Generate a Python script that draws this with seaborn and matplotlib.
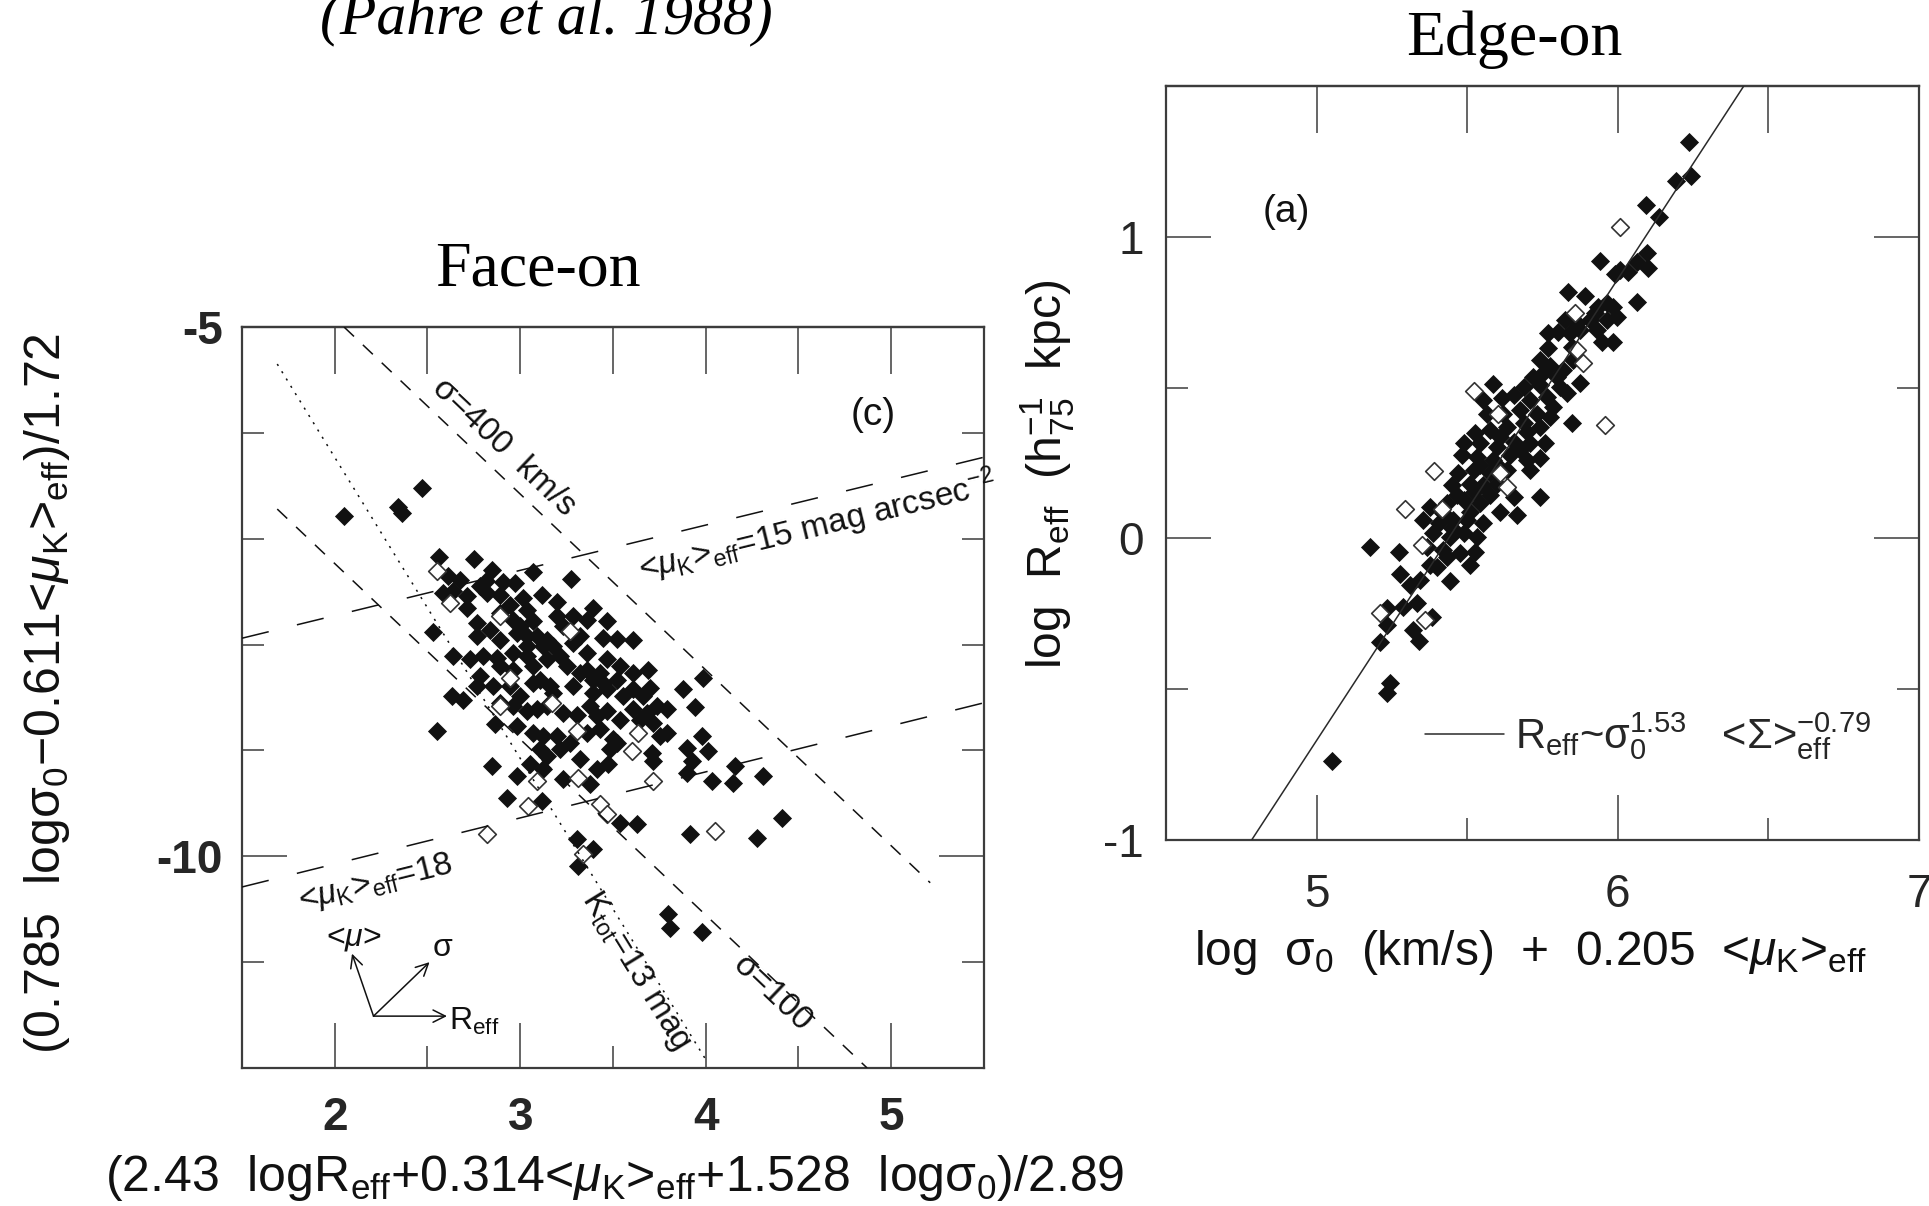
import numpy as np
import pandas as pd
import matplotlib
matplotlib.use("Agg")
import matplotlib.pyplot as plt
from matplotlib.ticker import NullLocator
import seaborn as sns

# ---------------- Face-on panel (c): filled galaxies ----------------
face_filled_x = [2.05, 2.34, 2.36, 2.47,
    2.564, 2.751, 3.071, 3.272, 2.613, 2.675, 2.816, 2.846, 2.909, 2.972,
    2.582, 2.640, 2.711, 2.783, 2.819, 2.891, 3.017, 3.116, 3.197, 2.711,
    2.945, 3.035, 3.394, 3.197, 3.286, 3.466, 2.765, 2.891, 2.963, 3.071,
    2.532, 2.837, 2.765, 2.891, 2.981, 3.089, 3.233, 3.322, 3.448, 3.520,
    3.610, 2.640, 2.729, 2.801, 2.873, 2.963, 3.035, 3.179, 3.286, 3.358,
    3.466, 3.538, 2.783, 2.891, 2.963, 3.071, 3.143, 3.215, 3.358, 3.430,
    3.520, 3.610, 3.691, 3.987, 2.631, 2.693, 2.765, 2.855, 2.945, 3.071,
    3.161, 3.286, 3.394, 3.466, 3.610, 3.700, 3.879, 2.550,
    2.999, 3.143, 3.035, 3.250, 3.322, 3.394, 3.107, 3.179, 2.999, 3.448,
    3.556, 3.664, 3.358, 3.125, 3.035,
    2.891, 2.963, 3.035, 3.088, 3.142, 3.232, 3.304, 3.376, 3.412, 3.466,
    3.538, 3.610, 3.681, 3.735, 3.789, 3.942, 2.864, 2.981, 3.071, 3.124,
    3.196, 3.268, 3.358, 3.430, 3.502, 3.646, 3.717, 3.753, 3.789, 3.897,
    3.978, 4.014, 3.106, 3.142, 3.214, 3.322, 3.484, 3.520, 3.708, 3.717,
    3.924, 2.846, 3.053, 3.124, 3.232, 3.376, 3.412, 3.475, 3.897, 4.032,
    4.149, 4.158, 4.310, 2.981, 2.927, 3.115, 3.304, 3.394, 3.313, 3.538,
    3.628, 3.915, 4.274, 4.409, 3.798, 3.807, 3.978]
face_filled_y = [-6.79, -6.70, -6.76, -6.52,
    -7.173, -7.192, -7.318, -7.380, -7.355, -7.387, -7.402, -7.292, -7.412, -7.418,
    -7.513, -7.497, -7.544, -7.450, -7.513, -7.528, -7.560, -7.528, -7.601, -7.654,
    -7.623, -7.670, -7.654, -7.733, -7.733, -7.780, -7.796, -7.701, -7.764, -7.780,
    -7.884, -7.858, -7.921, -7.953, -7.890, -7.921, -7.827, -7.921, -7.937, -7.947,
    -7.953, -8.104, -8.141, -8.110, -8.126, -8.079, -8.016, -8.016, -7.984, -8.079,
    -8.141, -8.204, -8.299, -8.204, -8.236, -8.204, -8.141, -8.110, -8.236, -8.267,
    -8.330, -8.267, -8.236, -8.314, -8.487, -8.519, -8.393, -8.393, -8.393, -8.362,
    -8.393, -8.393, -8.456, -8.424, -8.424, -8.409, -8.424, -8.818,
    -7.827, -7.953, -8.110, -8.204, -8.267, -8.330, -8.330, -8.456, -8.487, -8.362,
    -8.487, -8.487, -7.764, -8.016, -7.921,
    -8.550, -8.582, -8.629, -8.613, -8.582, -8.645, -8.661, -8.582, -8.676, -8.629,
    -8.708, -8.613, -8.645, -8.582, -8.613, -8.588, -8.755, -8.771, -8.833, -8.865,
    -8.865, -8.928, -8.833, -8.802, -8.896, -8.708, -8.739, -8.865, -8.833, -8.975,
    -8.865, -9.006, -8.991, -9.054, -8.991, -9.085, -8.991, -8.928, -9.022, -9.101,
    -9.101, -9.148, -9.132, -9.179, -9.274, -9.321, -9.179, -9.132, -9.211, -9.289,
    -9.305, -9.148, -9.242, -9.242, -9.447, -9.478, -9.840, -9.928, -10.091, -9.683,
    -9.698, -9.793, -9.824, -9.635, -10.547, -10.673, -10.720]

# ---------------- Face-on panel (c): open galaxies ----------------
face_open_x = [2.550, 2.622, 2.891, 3.268, 2.945, 3.170, 2.891, 3.304, 3.637, 3.601,
               3.313, 3.088, 3.044, 3.430, 3.466, 3.717, 4.050, 3.340, 2.819]
face_open_y = [-7.308, -7.607, -7.733, -7.874, -8.314, -8.550, -8.576, -8.818, -8.833, -9.006,
               -9.258, -9.289, -9.525, -9.510, -9.604, -9.289, -9.761, -9.981, -9.793]

# ---------------- Edge-on panel (a): filled galaxies ----------------
edge_filled_x = [6.237, 6.193, 6.242, 6.094, 6.138, 5.941, 5.991, 6.007, 6.035, 6.063,
    6.096, 6.101, 5.836, 5.891, 6.063, 5.935, 5.963, 5.985, 5.924, 5.825,
    5.863, 5.908, 5.963, 5.996, 5.769, 5.802, 5.841, 5.874, 5.930, 5.946,
    5.985, 5.769, 5.847, 5.742, 5.775, 5.852, 5.720, 5.753, 5.797, 5.819,
    5.587, 5.687, 5.742, 5.809, 5.875, 5.654, 5.709, 5.764, 5.831, 5.847,
    5.565, 5.620, 5.676, 5.731, 5.786, 5.526, 5.576, 5.632, 5.687, 5.742,
    5.775, 5.488, 5.543, 5.598, 5.654, 5.709, 5.759, 5.482, 5.532, 5.587,
    5.643, 5.698, 5.742, 5.471, 5.521, 5.576, 5.632, 5.449, 5.510, 5.554,
    5.598, 5.654, 5.742, 5.377, 5.432, 5.488, 5.543, 5.609, 5.665, 5.354,
    5.405, 5.454, 5.499, 5.554, 5.388, 5.443, 5.488, 5.532, 5.272, 5.366,
    5.421, 5.477, 5.526,
    5.554, 5.614, 5.698, 5.609, 5.543, 5.598, 5.676, 5.465, 5.521, 5.576,
    5.421, 5.510, 5.449, 5.432, 5.709, 5.177,
    5.277, 5.310, 5.343, 5.376, 5.399, 5.443, 5.509, 5.233, 5.288, 5.332,
    5.382, 5.233, 5.321, 5.341, 5.211, 5.244, 5.233, 5.050]
edge_filled_y = [1.315, 1.186, 1.202, 1.106, 1.067, 0.921, 0.877, 0.890, 0.884, 0.918,
    0.947, 0.896, 0.818, 0.804, 0.785, 0.768, 0.782, 0.768, 0.746, 0.724,
    0.713, 0.724, 0.724, 0.735, 0.680, 0.686, 0.680, 0.691, 0.691, 0.652,
    0.652, 0.630, 0.636, 0.592, 0.570, 0.592, 0.536, 0.547, 0.536, 0.558,
    0.512, 0.503, 0.508, 0.503, 0.514, 0.475, 0.459, 0.470, 0.481, 0.384,
    0.414, 0.414, 0.426, 0.414, 0.437, 0.348, 0.359, 0.370, 0.381, 0.370,
    0.403, 0.315, 0.315, 0.304, 0.321, 0.315, 0.315, 0.276, 0.271, 0.260,
    0.276, 0.260, 0.265, 0.216, 0.227, 0.216, 0.227, 0.177, 0.182, 0.177,
    0.182, 0.138, 0.138, 0.105, 0.116, 0.127, 0.116, 0.088, 0.077, 0.061,
    0.050, 0.061, 0.061, 0.050, 0.017, 0.006, 0.017, 0.006, -0.044, -0.028,
    -0.039, -0.050, -0.044,
    0.459, 0.464, 0.354, 0.337, 0.243, 0.243, 0.293, 0.144, 0.155, 0.144,
    0.083, 0.088, 0.033, -0.061, 0.227, -0.029,
    -0.118, -0.154, -0.138, -0.088, -0.094, -0.140, -0.088, -0.232, -0.226, -0.215,
    -0.259, -0.287, -0.304, -0.339, -0.342, -0.481, -0.514, -0.738]

# ---------------- Edge-on panel (a): open galaxies ----------------
edge_open_x = [6.007, 5.858, 5.863, 5.886, 5.524, 5.603, 5.390, 5.294, 5.415, 5.349,
               5.631, 5.609, 5.958, 5.211, 5.360]
edge_open_y = [1.031, 0.746, 0.625, 0.580, 0.490, 0.414, 0.224, 0.096, 0.099, -0.022,
               0.171, 0.216, 0.376, -0.248, -0.271]

# ---------------- reference lines (face-on) ----------------
sig400_x, sig400_y = [2.05, 5.21], [-5.0, -10.25]
sig100_x, sig100_y = [1.69, 4.87], [-6.72, -12.0]
ktot13_x, ktot13_y = [1.69, 4.00], [-5.35, -11.92]
mu15_x, mu15_y = [1.5, 5.5], [-7.94, -6.23]
mu18_x, mu18_y = [1.5, 5.5], [-10.29, -8.55]

# edge-on fit: log Reff = 1.53 * x + intercept
fit_slope, fit_intercept = 1.53, -8.32

# axes ranges
face_xlim, face_ylim = (1.5, 5.5), (-12.0, -5.0)
edge_xlim, edge_ylim = (4.5, 7.0), (-1.0, 1.5)

# ---------------- style ----------------
sns.set_style("ticks")
plt.rcParams['font.family'] = ['Liberation Sans', 'DejaVu Sans']
plt.rcParams['mathtext.fontset'] = 'custom'
plt.rcParams['mathtext.rm'] = 'Liberation Sans'
plt.rcParams['mathtext.it'] = 'Liberation Sans:italic'
plt.rcParams['mathtext.bf'] = 'Liberation Sans:bold'
plt.rcParams['axes.unicode_minus'] = False

INK = '#111111'
FRAME = '#3c3c3c'
PX = 0.72  # points per pixel at dpi 100
MS = 95    # marker area

fig = plt.figure(figsize=(19.29, 12.06), dpi=100)
axL = fig.add_axes([0.12545, 0.11443, 0.38466, 0.61443])
axR = fig.add_axes([0.60446, 0.30348, 0.39036, 0.62521])


def style_axes(ax, xlim, ylim, xmaj, xmin, ymaj, ymin, top, bold, lsize, xpad, ypad):
    ax.set_xlim(xlim)
    ax.set_ylim(ylim)
    ax.set_xticks(xmaj)
    ax.set_xticks(xmin, minor=True)
    ax.set_yticks(ymaj)
    ax.set_yticks(ymin, minor=True)
    w = 'bold' if bold else 'normal'
    ax.set_xticklabels([f'{v:g}' for v in xmaj], fontsize=lsize, fontweight=w)
    ax.set_yticklabels([f'{v:g}' for v in ymaj], fontsize=lsize, fontweight=w)
    for s in ax.spines.values():
        s.set_visible(True)
        s.set_color(FRAME)
        s.set_linewidth(1.6)
    ax.tick_params(which='both', direction='in', top=False, bottom=True,
                   left=True, right=True, color=FRAME, width=1.1)
    ax.tick_params(which='major', length=45 * PX)
    ax.tick_params(which='minor', length=22 * PX)
    ax.tick_params(axis='x', pad=xpad)
    ax.tick_params(axis='y', pad=ypad)
    ax.grid(False)
    sec = ax.secondary_xaxis('top')
    sec.set_xticks(top)
    sec.set_xticklabels([])
    sec.xaxis.set_minor_locator(NullLocator())
    sec.tick_params(direction='in', length=47 * PX, width=1.1, color=FRAME, labeltop=False)
    sec.spines['top'].set_color(FRAME)
    sec.spines['top'].set_linewidth(1.6)


def angle(xs, ys):
    return np.degrees(np.arctan2(ys[1] - ys[0], xs[1] - xs[0]))


# ================= Face-on panel =================
style_axes(axL, face_xlim, face_ylim, [2, 3, 4, 5], [2.5, 3.5, 4.5],
           [-10, -5], [-11, -9, -8, -7, -6], [2, 2.5, 3, 3.5, 4, 4.5, 5],
           True, 33, 20, 14)

df_ff = pd.DataFrame({'x': face_filled_x, 'y': face_filled_y})
df_fo = pd.DataFrame({'x': face_open_x, 'y': face_open_y})
sns.scatterplot(data=df_ff, x='x', y='y', marker='D', s=MS, color=INK,
                edgecolor=INK, linewidth=0, ax=axL, zorder=3, legend=False)
sns.scatterplot(data=df_fo, x='x', y='y', marker='D', s=MS * 0.85, color='white',
                edgecolor='#333333', linewidth=1.2, ax=axL, zorder=3.5, legend=False)

lw = 1.1
axL.plot(sig400_x, sig400_y, color=INK, lw=lw, dashes=(9, 8), zorder=4)
axL.plot(sig100_x, sig100_y, color=INK, lw=lw, dashes=(9, 8), zorder=4)
axL.plot(ktot13_x, ktot13_y, color=INK, lw=lw, dashes=(1.4, 4.2), zorder=4)
axL.plot(mu15_x, mu15_y, color=INK, lw=lw, dashes=(18, 19), zorder=4)
axL.plot(mu18_x, mu18_y, color=INK, lw=lw, dashes=(18, 19), zorder=4)

ann = dict(fontsize=24, color=INK, ha='center', va='center',
           rotation_mode='anchor', transform_rotates_text=True, zorder=5)
axL.text(2.91, -6.14, 'σ=400  km/s', rotation=angle(sig400_x, sig400_y), **ann)
axL.text(4.60, -6.88, r'<$\mu_{\rm K}$>${}_{\rm eff}$=15 mag arcsec$^{-2}$',
         rotation=angle(mu15_x, mu15_y), **ann)
axL.text(2.22, -10.25, r'<$\mu_{\rm K}$>${}_{\rm eff}$=18',
         rotation=angle(mu18_x, mu18_y), **ann)
axL.text(3.62, -11.08, r'K${}_{\rm tot}$=13 mag', rotation=angle(ktot13_x, ktot13_y), **ann)
axL.text(4.36, -11.30, 'σ=100', rotation=angle(sig100_x, sig100_y), **ann)
axL.text(4.90, -5.83, '(c)', fontsize=28, color=INK, ha='center', va='center')

# projection arrows
arrow_origin = (2.209, -11.51)
arrow_tips = [(2.605, -11.51), (2.511, -11.0), (2.093, -10.92)]
for tip in arrow_tips:
    axL.annotate('', xy=tip, xytext=arrow_origin,
                 arrowprops=dict(arrowstyle='->', lw=1.1, color=INK,
                                 shrinkA=0, shrinkB=0, mutation_scale=22))
axL.text(2.615, -11.56, r'R${}_{\rm eff}$', fontsize=23, color=INK, ha='left', va='center')
axL.text(2.53, -10.87, 'σ', fontsize=23, color=INK, ha='left', va='center')
axL.text(2.10, -10.77, r'<$\mu$>', fontsize=23, color=INK, ha='center', va='center')

# ================= Edge-on panel =================
style_axes(axR, edge_xlim, edge_ylim, [5, 6, 7], [5.5, 6.5],
           [-1, 0, 1], [-0.5, 0.5], [5, 5.5, 6, 6.5],
           False, 33, 24, 16)

df_ef = pd.DataFrame({'x': edge_filled_x, 'y': edge_filled_y})
df_eo = pd.DataFrame({'x': edge_open_x, 'y': edge_open_y})
sns.scatterplot(data=df_ef, x='x', y='y', marker='D', s=MS, color=INK,
                edgecolor=INK, linewidth=0, ax=axR, zorder=3, legend=False)
sns.scatterplot(data=df_eo, x='x', y='y', marker='D', s=MS * 0.85, color='white',
                edgecolor='#333333', linewidth=1.2, ax=axR, zorder=3.5, legend=False)

fit_y = np.array(edge_ylim)
fit_x = (fit_y - fit_intercept) / fit_slope
axR.plot(fit_x, fit_y, color='#2a2a2a', lw=1.1, zorder=4,
         label=r'R${}_{\rm eff}$~σ${}_0^{1.53}$   <Σ>${}_{\rm eff}^{-0.79}$')
axR.legend(loc='center left', bbox_to_anchor=(0.344, 0.138), frameon=False,
           fontsize=30, handlelength=1.9, handletextpad=0.25, borderpad=0,
           borderaxespad=0)
axR.text(4.898, 1.082, '(a)', fontsize=28, color=INK, ha='center', va='center')

# ================= labels & titles =================
axL.set_xlabel('')
axL.set_ylabel('')
axR.set_xlabel('')
axR.set_ylabel('')
fig.text(0.0244, 0.425, r'(0.785  logσ${}_0$−0.611<$\mu_{\rm K}$>${}_{\rm eff}$)/1.72',
         rotation=90, fontsize=36, ha='center', va='center', color=INK)
fig.text(0.3188, 0.0232,
         r'(2.43  logR${}_{\rm eff}$+0.314<$\mu_{\rm K}$>${}_{\rm eff}$+1.528  logσ${}_0$)/2.89',
         fontsize=36, ha='center', va='center', color=INK)
fig.text(0.7937, 0.2098, r'log  σ${}_0$  (km/s)  +  0.205  <$\mu_{\rm K}$>${}_{\rm eff}$',
         fontsize=34.5, ha='center', va='center', color=INK)
fig.text(0.5433, 0.607, r'log  R${}_{\rm eff}$  (h${}_{75}^{-1}$  kpc)',
         rotation=90, fontsize=34.5, ha='center', va='center', color=INK)

fig.text(0.2831, 0.9726, '(Pahre et al. 1988)', fontsize=43, ha='center', va='baseline',
         family='Liberation Serif', style='italic', color='black')
fig.text(0.2787, 0.7633, 'Face-on', fontsize=46, ha='center', va='baseline',
         family='Liberation Serif', color='black')
fig.text(0.785, 0.954, 'Edge-on', fontsize=46, ha='center', va='baseline',
         family='Liberation Serif', color='black')

fig.savefig('out.png', dpi=100)
